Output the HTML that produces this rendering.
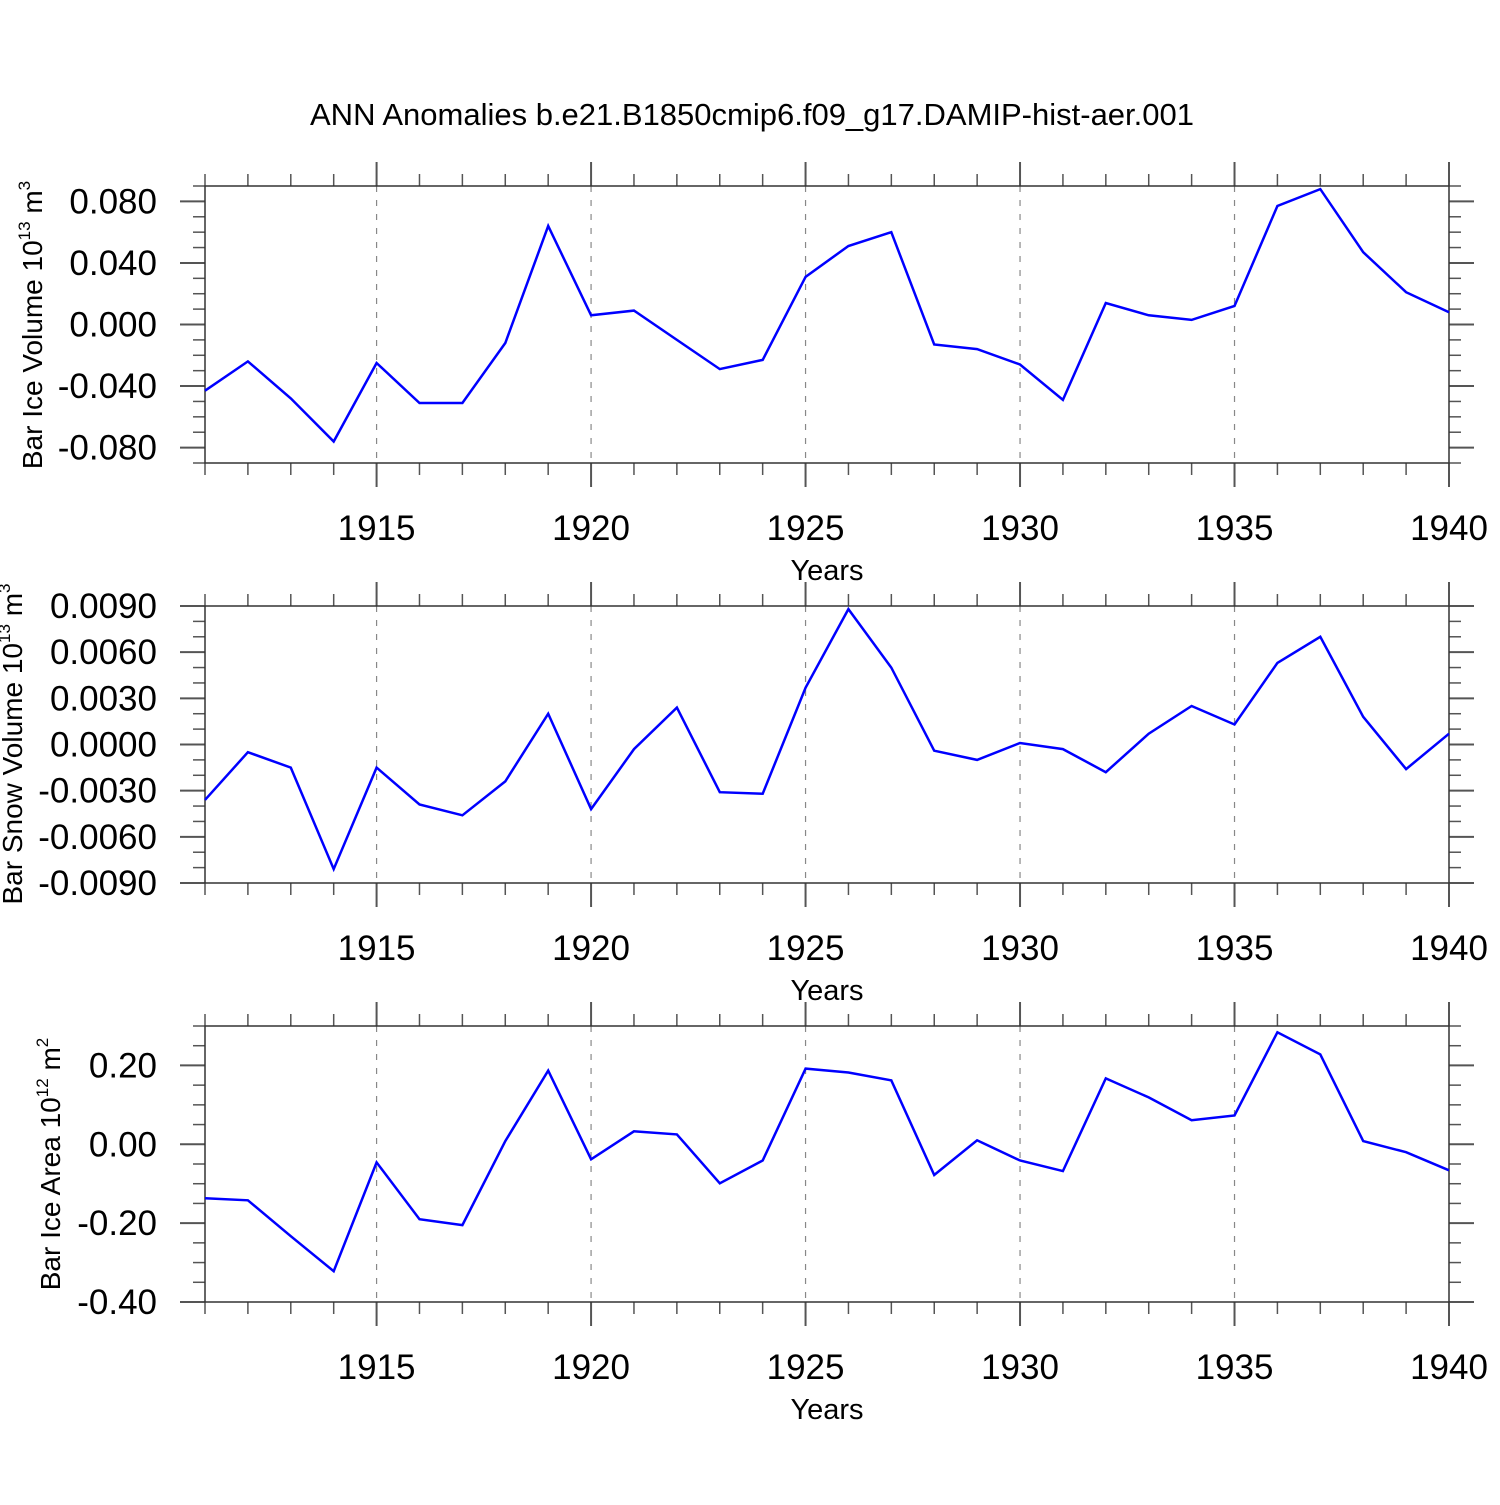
<!DOCTYPE html>
<html><head><meta charset="utf-8"><style>
html,body{margin:0;padding:0;background:#fff;}
svg text{font-family:"Liberation Sans",sans-serif;fill:#000;}
</style></head><body>
<svg id="chart" width="1500" height="1500" xmlns="http://www.w3.org/2000/svg">
<text x="752" y="125" font-size="31" text-anchor="middle">ANN Anomalies b.e21.B1850cmip6.f09_g17.DAMIP-hist-aer.001</text>
</svg>
<script>
const years = [1911,1912,1913,1914,1915,1916,1917,1918,1919,1920,1921,1922,1923,1924,1925,1926,1927,1928,1929,1930,1931,1932,1933,1934,1935,1936,1937,1938,1939,1940];
const iceVolume = [-0.043,-0.024,-0.048,-0.076,-0.025,-0.051,-0.051,-0.012,0.064,0.006,0.009,-0.010,-0.029,-0.023,0.031,0.051,0.060,-0.013,-0.016,-0.026,-0.049,0.014,0.006,0.003,0.012,0.077,0.088,0.047,0.021,0.008];
const snowVolume = [-0.0036,-0.0005,-0.0015,-0.0081,-0.0015,-0.0039,-0.0046,-0.0024,0.0020,-0.0042,-0.0003,0.0024,-0.0031,-0.0032,0.0037,0.0088,0.0050,-0.0004,-0.0010,0.0001,-0.0003,-0.0018,0.0007,0.0025,0.0013,0.0053,0.0070,0.0018,-0.0016,0.0007];
const iceArea = [-0.137,-0.142,-0.233,-0.322,-0.046,-0.190,-0.205,0.008,0.187,-0.038,0.033,0.025,-0.099,-0.041,0.192,0.182,0.162,-0.078,0.010,-0.041,-0.068,0.167,0.119,0.061,0.073,0.284,0.228,0.008,-0.020,-0.066];
const xTickLabels = [1915,1920,1925,1930,1935,1940];
const iceVolumeTicks = ["0.080","0.040","0.000","-0.040","-0.080"];
const snowVolumeTicks = ["0.0090","0.0060","0.0030","0.0000","-0.0030","-0.0060","-0.0090"];
const iceAreaTicks = ["0.20","0.00","-0.20","-0.40"];

const NS='http://www.w3.org/2000/svg';
const svg=document.getElementById('chart');
const X0=205,X1=1449,xmin=1911,xmax=1940;
function xs(v){return X0+(v-xmin)/(xmax-xmin)*(X1-X0);}
function mk(tag,attrs,parent){const e=document.createElementNS(NS,tag);for(const k in attrs)e.setAttribute(k,attrs[k]);(parent||svg).appendChild(e);return e;}

const panels=[
 {name:'ice-volume',top:186,bot:463,ymin:-0.09,ymax:0.09,major:0.04,minor:0.01,ticks:iceVolumeTicks,data:iceVolume,title:'Bar Ice Volume 10',sup:'13',unit:' m',usup:'3',tx:32,ty:325},
 {name:'snow-volume',top:606,bot:883,ymin:-0.009,ymax:0.009,major:0.003,minor:0.001,ticks:snowVolumeTicks,data:snowVolume,title:'Bar Snow Volume 10',sup:'13',unit:' m',usup:'3',tx:12,ty:744},
 {name:'ice-area',top:1026,bot:1302,ymin:-0.4,ymax:0.3,major:0.2,minor:0.05,ticks:iceAreaTicks,data:iceArea,title:'Bar Ice Area 10',sup:'12',unit:' m',usup:'2',tx:50,ty:1164}
];
panels.forEach(p=>{
 const g=mk('g',{});
 
 
 const ys=v=>p.bot-(v-p.ymin)/(p.ymax-p.ymin)*(p.bot-p.top);
 xTickLabels.forEach(y=>{if(y<xmax){const l=mk('line',{x1:xs(y),x2:xs(y),y1:p.top,y2:p.bot,stroke:'#888','stroke-width':1.2,'stroke-dasharray':'6,8'},g);
  }});
 for(let y=xmin;y<=xmax;y++){const maj=(y%5===0);const len=maj?24:12;
  mk('line',{x1:xs(y),x2:xs(y),y1:p.bot,y2:p.bot+len,stroke:'#555','stroke-width':maj?2:1.5},g);
  mk('line',{x1:xs(y),x2:xs(y),y1:p.top,y2:p.top-len,stroke:'#555','stroke-width':maj?2:1.5},g);}
 xTickLabels.forEach(y=>{const t=mk('text',{x:xs(y),y:p.bot+77,'font-size':35,'text-anchor':'middle'},g);t.textContent=y;
  });
 const xt=mk('text',{x:827,y:p.bot+117,'font-size':29,'text-anchor':'middle'},g);xt.textContent='Years';
 
 const n=Math.round((p.ymax-p.ymin)/p.minor);
 for(let i=0;i<=n;i++){const v=p.ymin+i*p.minor;const r=v/p.major;const maj=Math.abs(r-Math.round(r))<1e-6;const len=maj?25:12;
  mk('line',{x1:X0,x2:X0-len,y1:ys(v),y2:ys(v),stroke:'#555','stroke-width':maj?2:1.5},g);
  mk('line',{x1:X1,x2:X1+len,y1:ys(v),y2:ys(v),stroke:'#555','stroke-width':maj?2:1.5},g);}
 p.ticks.forEach(s=>{const v=parseFloat(s);const t=mk('text',{x:157,y:ys(v)+12,'font-size':35,'text-anchor':'end'},g);t.textContent=s;
  });
 mk('rect',{x:X0,y:p.top,width:X1-X0,height:p.bot-p.top,fill:'none',stroke:'#333','stroke-width':1.5},g);
 const yt=mk('text',{x:0,y:0,'font-size':28,'text-anchor':'middle',transform:`translate(${p.tx+10},${p.ty}) rotate(-90)`},g);
 
 const a=document.createElementNS(NS,'tspan');a.textContent=p.title;yt.appendChild(a);
 const b=document.createElementNS(NS,'tspan');b.setAttribute('dy','-12');b.setAttribute('font-size','17');b.textContent=p.sup;yt.appendChild(b);
 const c=document.createElementNS(NS,'tspan');c.setAttribute('dy','12');c.textContent=p.unit;yt.appendChild(c);
 const d=document.createElementNS(NS,'tspan');d.setAttribute('dy','-12');d.setAttribute('font-size','17');d.textContent=p.usup;yt.appendChild(d);
 const pts=p.data.map((v,i)=>xs(years[i]).toFixed(1)+','+ys(v).toFixed(1)).join(' ');
 const pl=mk('polyline',{points:pts,fill:'none',stroke:'#0000ff','stroke-width':2.5,'stroke-linejoin':'miter'},g);
 
 
});
</script>
</body></html>
